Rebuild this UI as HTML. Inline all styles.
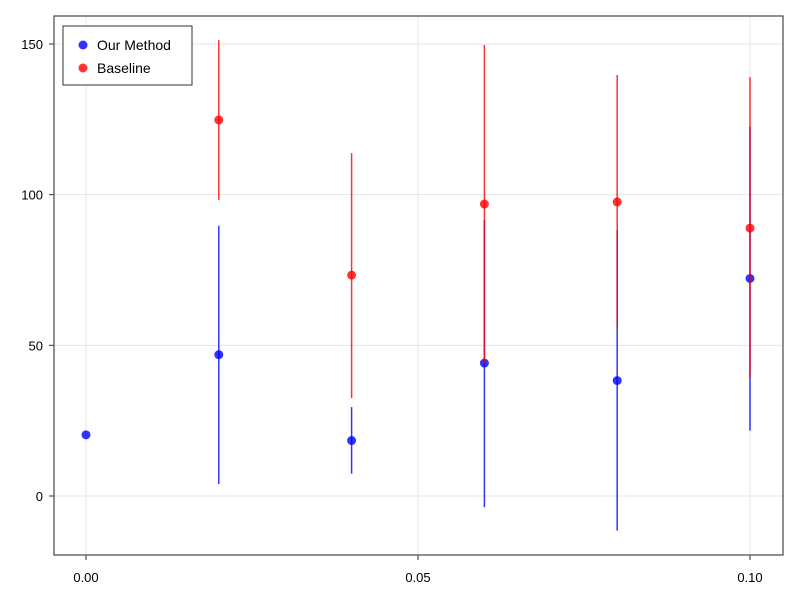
<!DOCTYPE html>
<html><head><meta charset="utf-8"><style>
html,body{margin:0;padding:0;background:#fff;}
svg{display:block;font-family:"Liberation Sans",sans-serif;}
</style></head><body>
<svg id="chart" width="800" height="600"></svg>
<script>
const xsBlue=[0,0.02,0.04,0.06,0.08,0.10];
const blueVals=[20.3,46.9,18.4,44.1,38.3,72.2];
const blueLow=[20.3,4,7.4,-3.7,-11.5,21.7];
const blueHigh=[20.3,89.7,29.5,91.6,88.3,122.5];
const xsRed=[0.02,0.04,0.06,0.08,0.10];
const redVals=[124.8,73.3,96.9,97.6,88.9];
const redLow=[98.2,32.5,44.1,55.8,39.2];
const redHigh=[151.3,113.8,149.7,139.7,139];
const xTicks=[0,0.05,0.10];
const xTickLabels=["0.00","0.05","0.10"];
const yTicks=[0,50,100,150];
const yTickLabels=["0","50","100","150"];

const NS="http://www.w3.org/2000/svg";
const svg=document.getElementById('chart');
const L=54,R=783,T=16,B=555;
const xs=v=>86+v*6640;
const ys=v=>496-v*3.0133;
function mk(tag,attrs,parent){const e=document.createElementNS(NS,tag);for(const k in attrs)e.setAttribute(k,attrs[k]);(parent||svg).appendChild(e);return e;}

const grid=mk('g',{});


xTicks.forEach((t,i)=>{
  mk('line',{x1:xs(t),x2:xs(t),y1:T,y2:B,stroke:'#e5e5e5','stroke-width':1},grid);
  mk('line',{x1:xs(t),x2:xs(t),y1:B,y2:B+5,stroke:'#333','stroke-width':1},grid);
  const tx=mk('text',{x:xs(t),y:582,'text-anchor':'middle','font-size':13,fill:'#000'});
  tx.textContent=xTickLabels[i];
  
  
});
yTicks.forEach((t,i)=>{
  mk('line',{x1:L,x2:R,y1:ys(t),y2:ys(t),stroke:'#e5e5e5','stroke-width':1},grid);
  mk('line',{x1:L-5,x2:L,y1:ys(t),y2:ys(t),stroke:'#333','stroke-width':1},grid);
  const tx=mk('text',{x:43,y:ys(t)+5,'text-anchor':'end','font-size':13,fill:'#000'});
  tx.textContent=yTickLabels[i];
  
  
});
const frame=mk('rect',{x:L,y:T,width:R-L,height:B-T,fill:'none',stroke:'#555','stroke-width':1.3});



function series(x,v,lo,hi,color,name){
  const g=mk('g',{});
  
  
  x.forEach((xv,i)=>{
    const l=mk('line',{x1:xs(xv),x2:xs(xv),y1:ys(lo[i]),y2:ys(hi[i]),stroke:color,'stroke-width':1.5,'stroke-opacity':0.8},g);
    
    
  });
  x.forEach((xv,i)=>{
    const c=mk('circle',{cx:xs(xv),cy:ys(v[i]),r:4.5,fill:color,'fill-opacity':0.8},g);
    
    
  });
}
series(xsBlue,blueVals,blueLow,blueHigh,'#0000ff','our-method');
series(xsRed,redVals,redLow,redHigh,'#ff0000','baseline');

const lg=mk('g',{});


mk('rect',{x:63,y:26,width:129,height:59,fill:'#fff',stroke:'#333','stroke-width':1},lg);
[['Our Method','#0000ff',45],['Baseline','#ff0000',68]].forEach(([n,c,y])=>{
  const e=mk('g',{},lg);
  
  
  mk('circle',{cx:83,cy:y,r:4.5,fill:c,'fill-opacity':0.8},e);
  const t=mk('text',{x:97,y:y+5,'font-size':14,fill:'#000'},e);
  t.textContent=n;
});
</script>
</body></html>
